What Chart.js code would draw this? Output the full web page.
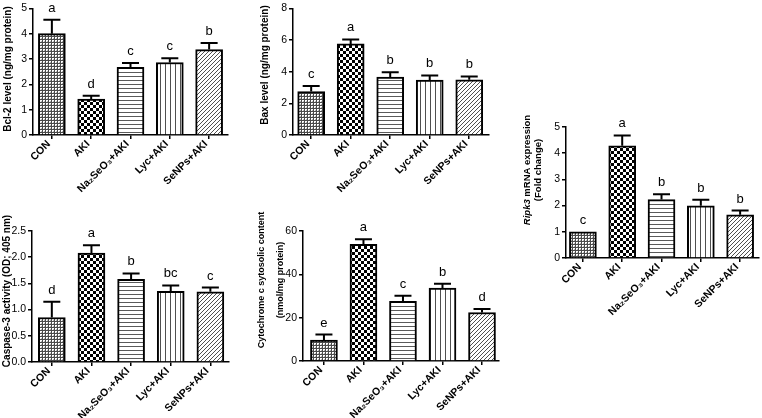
<!DOCTYPE html>
<html><head><meta charset="utf-8">
<script src="https://cdn.jsdelivr.net/npm/chart.js@4.4.1/dist/chart.umd.min.js"></script>
<style>
html,body{margin:0;padding:0;background:#fff;width:762px;height:418px;overflow:hidden}
.p{position:absolute}
</style></head><body>
<div class="p" style="left:0px;top:0px;width:235px;height:205px"><canvas id="c1"></canvas></div>
<div class="p" style="left:250px;top:0px;width:250px;height:205px"><canvas id="c2"></canvas></div>
<div class="p" style="left:0px;top:210px;width:235px;height:208px"><canvas id="c3"></canvas></div>
<div class="p" style="left:250px;top:210px;width:252px;height:208px"><canvas id="c4"></canvas></div>
<div class="p" style="left:500px;top:100px;width:262px;height:220px"><canvas id="c5"></canvas></div>
<script>
// ---------- data ----------
const categories = ['CON', 'AKI', 'Na\u2082SeO\u2083+AKI', 'Lyc+AKI', 'SeNPs+AKI'];

const bcl2Mean = [4.00, 1.42, 2.67, 2.86, 3.37];
const bcl2Sem = [0.55, 0.13, 0.17, 0.17, 0.26];
const bcl2Letters = ['a', 'd', 'c', 'c', 'b'];
const bcl2Ticks = [0, 1, 2, 3, 4, 5];

const baxMean = [2.74, 5.75, 3.65, 3.47, 3.49];
const baxSem = [0.35, 0.28, 0.31, 0.29, 0.21];
const baxLetters = ['c', 'a', 'b', 'b', 'b'];
const baxTicks = [0, 2, 4, 6, 8];

const casp3Mean = [0.85, 2.08, 1.58, 1.35, 1.34];
const casp3Sem = [0.30, 0.15, 0.11, 0.11, 0.08];
const casp3Letters = ['d', 'a', 'b', 'bc', 'c'];
const casp3Ticks = [0, 0.5, 1.0, 1.5, 2.0, 2.5];
const casp3TickLabels = ['0.0', '0.5', '1.0', '1.5', '2.0', '2.5'];

const cytcMean = [9.6, 53.9, 27.5, 33.6, 22.4];
const cytcSem = [2.6, 2.3, 2.6, 2.0, 1.6];
const cytcLetters = ['e', 'a', 'c', 'b', 'd'];
const cytcTicks = [0, 20, 40, 60];

const ripk3Mean = [1.00, 4.28, 2.23, 1.99, 1.65];
const ripk3Sem = [0.00, 0.40, 0.20, 0.23, 0.16];
const ripk3Letters = ['c', 'a', 'b', 'b', 'b'];
const ripk3Ticks = [0, 1, 2, 3, 4, 5];

// ---------- styling helpers ----------
const FAM = "'Liberation Sans', Arial, Helvetica, sans-serif";
Chart.defaults.font.family = FAM;
Chart.defaults.color = '#000';

function tile(w, h, draw) {
  const c = document.createElement('canvas'); c.width = w; c.height = h;
  const x = c.getContext('2d'); x.fillStyle = '#fff'; x.fillRect(0, 0, w, h);
  draw(x); return x.createPattern(c, 'repeat');
}
const patterns = [
  tile(3, 3, x => { x.fillStyle = '#4a4a4a'; x.fillRect(0, 0, 3, 1); x.fillRect(0, 0, 1, 3); x.fillStyle = '#b0b0b0'; x.fillRect(2, 2, 1, 1); }),
  tile(6, 6, x => { x.fillStyle = '#000'; x.fillRect(0, 0, 3, 3); x.fillRect(3, 3, 3, 3); }),
  tile(1, 4, x => { x.fillStyle = '#5a5a5a'; x.fillRect(0, 0, 1, 1); }),
  tile(5, 1, x => { x.fillStyle = '#505050'; x.fillRect(0, 0, 1, 1); }),
  tile(4, 4, x => { x.fillStyle = '#505050'; x.fillRect(3, 0, 1, 1); x.fillRect(2, 1, 1, 1); x.fillRect(1, 2, 1, 1); x.fillRect(0, 3, 1, 1); })
];

function annotPlugin(sem, letters, title) {
  return {
    id: 'annot',
    afterDatasetsDraw(chart) {
      const ctx = chart.ctx, ys = chart.scales.y;
      const meta = chart.getDatasetMeta(0);
      const vals = chart.data.datasets[0].data;
      ctx.save();
      ctx.strokeStyle = '#000'; ctx.lineWidth = 2; ctx.lineCap = 'butt';
      meta.data.forEach((bar, i) => {
        const v = vals[i].y, e = sem[i];
        const yBar = ys.getPixelForValue(v), yTop = ys.getPixelForValue(v + e);
        if (e > 0) {
          ctx.beginPath();
          ctx.moveTo(bar.x, yBar); ctx.lineTo(bar.x, yTop);
          ctx.moveTo(bar.x - 8.5, yTop); ctx.lineTo(bar.x + 8.5, yTop);
          ctx.stroke();
        }
        ctx.fillStyle = '#000'; ctx.font = '13px ' + FAM;
        ctx.textAlign = 'center'; ctx.textBaseline = 'alphabetic';
        ctx.fillText(letters[i], bar.x, yTop - 8);
      });
      // y axis title
      title.lines.forEach(line => {
        ctx.save();
        ctx.translate(line.x, title.cy);
        ctx.rotate(-Math.PI / 2);
        ctx.textBaseline = 'middle'; ctx.textAlign = 'left'; ctx.fillStyle = '#000';
        let total = 0;
        line.runs.forEach(r => { ctx.font = r.f + ' ' + FAM; total += ctx.measureText(r.t).width; });
        let px = -total / 2;
        line.runs.forEach(r => { ctx.font = r.f + ' ' + FAM; ctx.fillText(r.t, px, 0); px += ctx.measureText(r.t).width; });
        ctx.restore();
      });
      ctx.restore();
    }
  };
}

function makeChart(id, mean, sem, letters, yTicks, yLabels, yMax, geo, title) {
  const data = categories.map((c, i) => ({ x: i, y: mean[i] }));
  new Chart(document.getElementById(id), {
    type: 'bar',
    data: {
      datasets: [{
        data: data,
        backgroundColor: patterns,
        borderColor: '#000',
        borderWidth: 2,
        barThickness: 27
      }]
    },
    options: {
      responsive: true, maintainAspectRatio: false, animation: false, events: [],
      layout: { padding: { left: 0, top: geo.top, right: geo.right, bottom: 0 } },
      plugins: { legend: { display: false }, tooltip: { enabled: false } },
      scales: {
        x: {
          type: 'linear', min: geo.xmin, max: geo.xmax, z: 1, offset: false,
          afterBuildTicks: s => { s.ticks = categories.map((c, i) => ({ value: i })); },
          afterFit: s => { s.height = geo.xh; },
          grid: { drawOnChartArea: false, drawTicks: true, tickLength: 4, color: '#000', lineWidth: 1.5, offset: false },
          border: { display: true, color: '#000', width: 1.5 },
          ticks: {
            autoSkip: false, maxRotation: 45, minRotation: 45, padding: -1, labelOffset: -3,
            font: { size: 10.5, weight: 'bold' }, color: '#000',
            callback: v => categories[v]
          }
        },
        y: {
          min: 0, max: yMax, z: 1,
          afterBuildTicks: s => { s.ticks = yTicks.map(v => ({ value: v })); },
          afterFit: s => { s.width = geo.yw; },
          grid: { drawOnChartArea: false, drawTicks: true, tickLength: 4, color: '#000', lineWidth: 1.5 },
          border: { display: true, color: '#000', width: 1.5 },
          ticks: {
            padding: 2, font: { size: 10.5 }, color: '#000',
            callback: (v) => { const k = yTicks.indexOf(v); return yLabels ? yLabels[k] : String(v); }
          }
        }
      }
    },
    plugins: [annotPlugin(sem, letters, title)]
  });
}

makeChart('c1', bcl2Mean, bcl2Sem, bcl2Letters, bcl2Ticks, null, 5,
  { top: 4, right: 7, yw: 33, xh: 70, xmin: -0.48, xmax: 4.48 },
  { cy: 69, lines: [{ x: 8, runs: [{ t: 'Bcl-2 level (ng/mg protein)', f: 'bold 10px' }] }] });

makeChart('c2', baxMean, baxSem, baxLetters, baxTicks, null, 8,
  { top: 4, right: 11, yw: 43, xh: 70, xmin: -0.46, xmax: 4.5 },
  { cy: 65, lines: [{ x: 15, runs: [{ t: 'Bax level (ng/mg protein)', f: 'bold 10px' }] }] });

makeChart('c3', casp3Mean, casp3Sem, casp3Letters, casp3Ticks, casp3TickLabels, 2.5,
  { top: 21, right: 6, yw: 32, xh: 56, xmin: -0.5, xmax: 4.47 },
  { cy: 81, lines: [{ x: 7, runs: [{ t: 'Caspase-3 activity (OD; 405 nm)', f: 'bold 10px' }] }] });

makeChart('c4', cytcMean, cytcSem, cytcLetters, cytcTicks, null, 60,
  { top: 21, right: 3, yw: 53, xh: 57, xmin: -0.53, xmax: 4.43 },
  { cy: 70, lines: [
      { x: 12, runs: [{ t: 'Cytochrome c sytosolic content', f: 'bold 9px' }] },
      { x: 31, runs: [{ t: '(nmol/mg protein)', f: 'bold 9px' }] } ] });

makeChart('c5', ripk3Mean, ripk3Sem, ripk3Letters, ripk3Ticks, null, 5,
  { top: 27, right: 3, yw: 66, xh: 62, xmin: -0.43, xmax: 4.48 },
  { cy: 70, lines: [
      { x: 27, runs: [{ t: 'Ripk3', f: 'italic bold 9.5px' }, { t: ' mRNA expression', f: 'bold 9.5px' }] },
      { x: 38, runs: [{ t: '(Fold change)', f: 'bold 9.5px' }] } ] });
</script>
</body></html>
